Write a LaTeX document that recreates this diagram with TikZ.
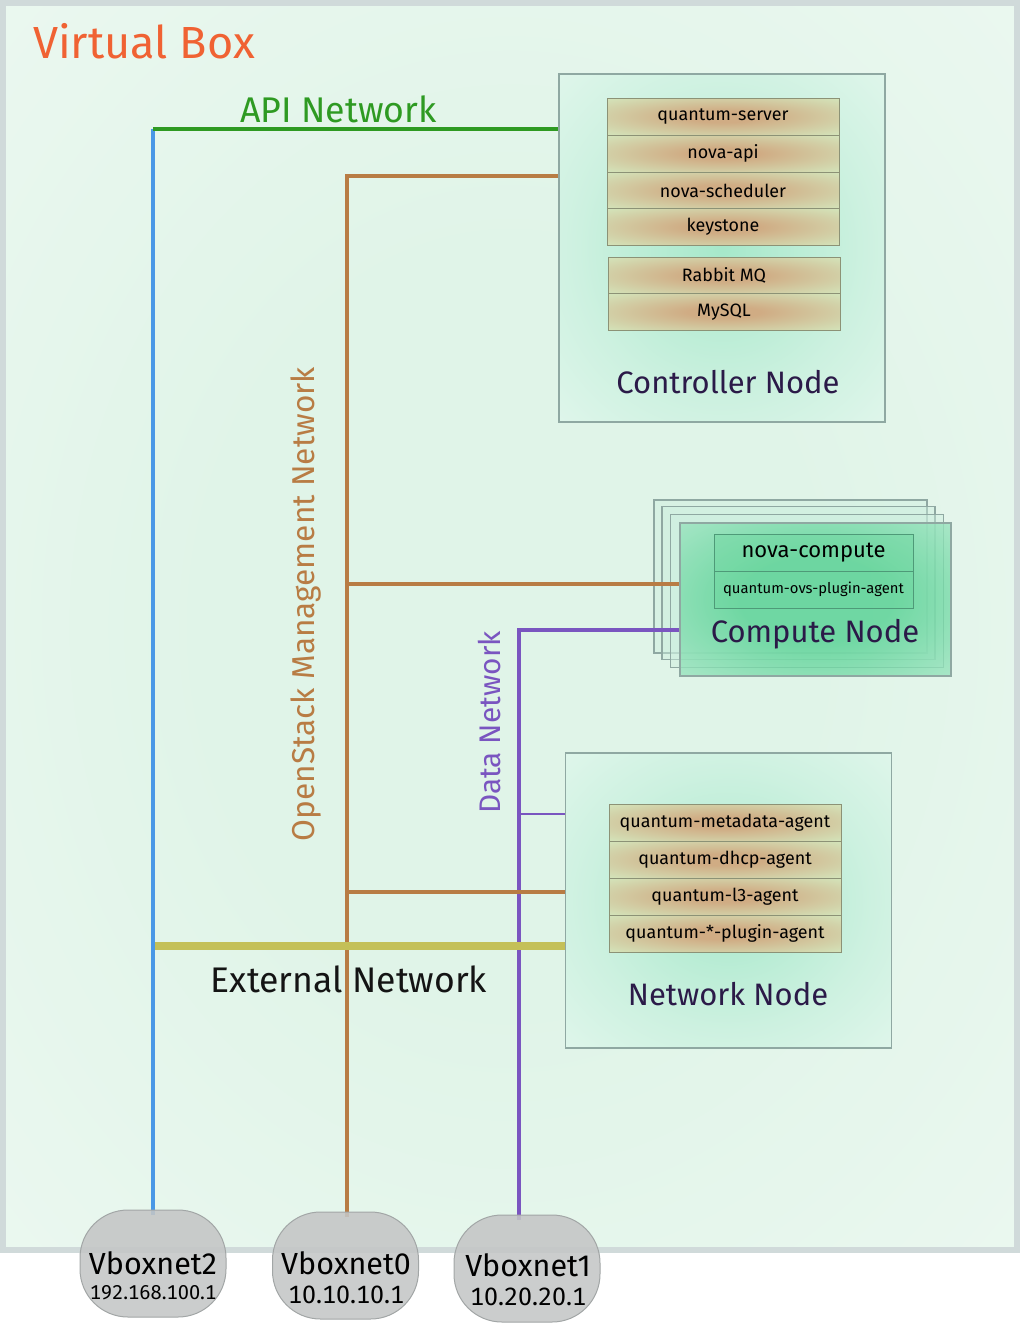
\documentclass[tikz,border=0pt]{standalone}
\usepackage{fontspec}
\setmainfont{Fira Sans}
\usetikzlibrary{calc}
\definecolor{vbBorder}{HTML}{D0DADA}
\definecolor{bgIn}{HTML}{E0F4E8}
\definecolor{bgMid}{HTML}{EEF9F2}
\definecolor{bgOut}{HTML}{FFFFFF}
\definecolor{ndBorder}{HTML}{8FA8A2}
\definecolor{ctIn}{HTML}{A6E8CA}
\definecolor{ctMid}{HTML}{CDF1E0}
\definecolor{ctOut}{HTML}{F2FBF6}
\definecolor{svIn}{HTML}{D0AC84}
\definecolor{svOut}{HTML}{D4EEC4}
\definecolor{svBorder}{HTML}{8C9276}
\definecolor{cpIn}{HTML}{58D294}
\definecolor{cpOut}{HTML}{C8EFDC}
\definecolor{cpBack}{HTML}{CDEFDF}
\definecolor{ncFill}{HTML}{6CD69E}
\definecolor{ncBorder}{HTML}{4E9A78}
\definecolor{orangeT}{HTML}{F06233}
\definecolor{greenL}{HTML}{2E9A22}
\definecolor{blueL}{HTML}{4A98E6}
\definecolor{brownL}{HTML}{B87C44}
\definecolor{purpL}{HTML}{7A55C0}
\definecolor{yelL}{HTML}{C4C058}
\definecolor{lblDark}{HTML}{2B1A48}
\definecolor{vbFill}{HTML}{C4C6C6}
\definecolor{vbEdge}{HTML}{A2A6A6}
\pgfdeclareradialshading{bgshade}{\pgfpoint{0bp}{0bp}}{color(0bp)=(bgIn); color(15bp)=(bgIn); color(42bp)=(bgMid); color(66bp)=(bgOut); color(72bp)=(bgOut)}
\pgfdeclareradialshading{ctshade}{\pgfpoint{0bp}{0bp}}{color(0bp)=(ctIn); color(22bp)=(ctMid); color(50bp)=(ctOut); color(72bp)=(ctOut)}
\pgfdeclareradialshading{svshade}{\pgfpoint{0bp}{0bp}}{color(0bp)=(svIn); color(8bp)=(svIn); color(40bp)=(svOut); color(72bp)=(svOut)}
\pgfdeclareradialshading{cpshade}{\pgfpoint{0bp}{0bp}}{color(0bp)=(cpIn); color(14bp)=(cpIn); color(50bp)=(cpOut); color(72bp)=(cpOut)}
\pgfdeclarelayer{bg}
\pgfdeclarelayer{lines}
\pgfdeclarelayer{top}
\pgfsetlayers{bg,main,lines,top}
\newcommand\fsz[1]{\fontsize{#1}{#1}\selectfont}
\newcommand\ipfont[1]{\fontsize{#1}{#1}\selectfont\addfontfeatures{Numbers=Monospaced}}
\tikzset{
  nodebox/.style={draw=ndBorder, line width=1.5pt, inner sep=0pt, shading=ctshade},
  svc/.style={draw=svBorder, line width=1pt, shading=svshade, minimum width=232pt,
    minimum height=37pt, inner sep=0pt, font=\fsz{17.9}, text=black},
  cpback/.style={draw=ndBorder, line width=1.2pt, fill=cpBack, fill opacity=0.45,
    minimum width=273pt, minimum height=153pt, inner sep=0pt},
  ncrow/.style={draw=ncBorder, line width=1pt, fill=ncFill, fill opacity=0.4, text opacity=1,
    minimum width=199pt, minimum height=37pt, inner sep=0pt, text=black},
  ndlabel/.style={font=\fsz{31}, text=lblDark, inner sep=0pt, anchor=base},
  netline/.style={line width=4pt, line cap=butt},
  vbox/.style={draw=vbEdge, fill=vbFill, fill opacity=0.88, line width=1pt, rounded corners=48pt,
    minimum width=146pt, minimum height=107pt, inner sep=0pt},
  vblbl/.style={inner sep=0pt, anchor=base, text=black},
}
\begin{document}
\begin{tikzpicture}[x=1pt,y=-1pt]
\useasboundingbox (0,0) rectangle (1020,1323);
\begin{pgfonlayer}{bg}
\shadedraw[shading=bgshade, draw=vbBorder, line width=6pt] (3,3) rectangle (1017,1249.5);
\end{pgfonlayer}

% titles
\node[font=\fsz{45}, text=orangeT, anchor=base west, inner sep=0pt] (vbtitle) at (33,58) {Virtual Box};
\node[font=\fsz{35.7}, text=greenL, anchor=base, inner sep=0pt] (apilbl) at (338.5,122) {API Network};
\node[font=\fsz{35.6}, text=black!92, anchor=base, inner sep=0pt] (extlbl) at (349,992) {External Network};
\node[font=\fsz{31.6}, text=brownL, rotate=90, anchor=base, inner sep=0pt] (mgmtlbl) at (314,604) {OpenStack Management Network};
\node[font=\fsz{29.8}, text=purpL, rotate=90, anchor=base, inner sep=0pt] (datalbl) at (500,722.5) {Data Network};

% controller node
\node[nodebox, minimum width=326pt, minimum height=348pt] (ctrl) at (722,248) {};
\node[svc] (s1) at (723,116.5) {quantum-server};
\node[svc] (s2) at (723,153.5) {nova-api};
\node[svc] (s3) at (723,190.5) {nova-scheduler};
\node[svc] (s4) at (723,227) {keystone};
\node[svc] (s5) at (724,275.5) {Rabbit MQ};
\node[svc] (s6) at (724,312) {MySQL};
\node[ndlabel] (ctrllbl) at (728,393) {Controller Node};

% compute node
\node[cpback] (cmpA) at (790.5,576.5) {};
\node[cpback] (cmpB) at (798.5,583) {};
\node[cpback] (cmpC) at (807,591) {};
\node[draw=ndBorder, line width=1.2pt, shading=cpshade, fill opacity=0.8, minimum width=271pt, minimum height=153pt, inner sep=0pt] (cmp) at (815.5,599.5) {};
\node[ncrow, font=\fsz{22}] (nc) at (813.5,552.5) {nova-compute};
\node[ncrow, font=\fsz{14.8}] (qo) at (813.5,589.5) {quantum-ovs-plugin-agent};
\node[ndlabel] (cmplbl) at (815,642) {Compute Node};

% network node
\node[nodebox, minimum width=326pt, minimum height=295pt] (net) at (728.5,900.5) {};
\node[svc] (n1) at (725,822.5) {quantum-metadata-agent};
\node[svc] (n2) at (725,859.5) {quantum-dhcp-agent};
\node[svc] (n3) at (725,896.5) {quantum-l3-agent};
\node[svc] (n4) at (725,933.5) {quantum-*-plugin-agent};
\node[ndlabel] (netlbl) at (728,1005) {Network Node};

% vboxnet hosts
\begin{pgfonlayer}{top}
\node[vbox] (vb2) at (153,1263.5) {};
\node[vbox] (vb0) at (345.5,1265.5) {};
\node[vbox] (vb1) at (527,1268.5) {};
\node[vblbl, font=\fsz{30.5}] (vb2n) at (153,1274) {Vboxnet2};
\node[vblbl, font=\ipfont{20}] (vb2ip) at (153,1299) {192.168.100.1};
\node[vblbl, font=\fsz{30.5}] (vb0n) at (346,1274) {Vboxnet0};
\node[vblbl, font=\ipfont{25}] (vb0ip) at (346,1303) {10.10.10.1};
\node[vblbl, font=\fsz{30.5}] (vb1n) at (528,1276) {Vboxnet1};
\node[vblbl, font=\ipfont{25}] (vb1ip) at (528,1305) {10.20.20.1};
\end{pgfonlayer}

% networks
\begin{pgfonlayer}{lines}
\coordinate (apiC) at (153,129);
\draw[netline, draw=blueL] (apiC) -- ($(vb2.north)+(0,5)$);
\draw[netline, draw=greenL] (apiC) -- (apiC -| ctrl.west);
\coordinate (dT) at (519,630);
\draw[netline, draw=purpL, line width=4.5pt] (cmp.west |- dT) -- (dT) -- ($(dT |- vb1.north)+(0,5)$);
\coordinate (dB) at (519,814);
\draw[netline, draw=purpL, line width=2.5pt] (dB) -- (dB -| net.west);
\coordinate (mT) at (347,176);
\draw[netline, draw=brownL] (ctrl.west |- mT) -- (mT) -- ($(mT |- vb0.north)+(0,5)$);
\coordinate (m2) at (347,584);
\draw[netline, draw=brownL] (m2) -- (m2 -| cmp.west);
\coordinate (m3) at (347,892);
\draw[netline, draw=brownL] (m3) -- (m3 -| net.west);
\coordinate (eL) at (155,946);
\draw[netline, draw=yelL, line width=8pt] (eL) -- (eL -| net.west);
\end{pgfonlayer}
\end{tikzpicture}
\end{document}
